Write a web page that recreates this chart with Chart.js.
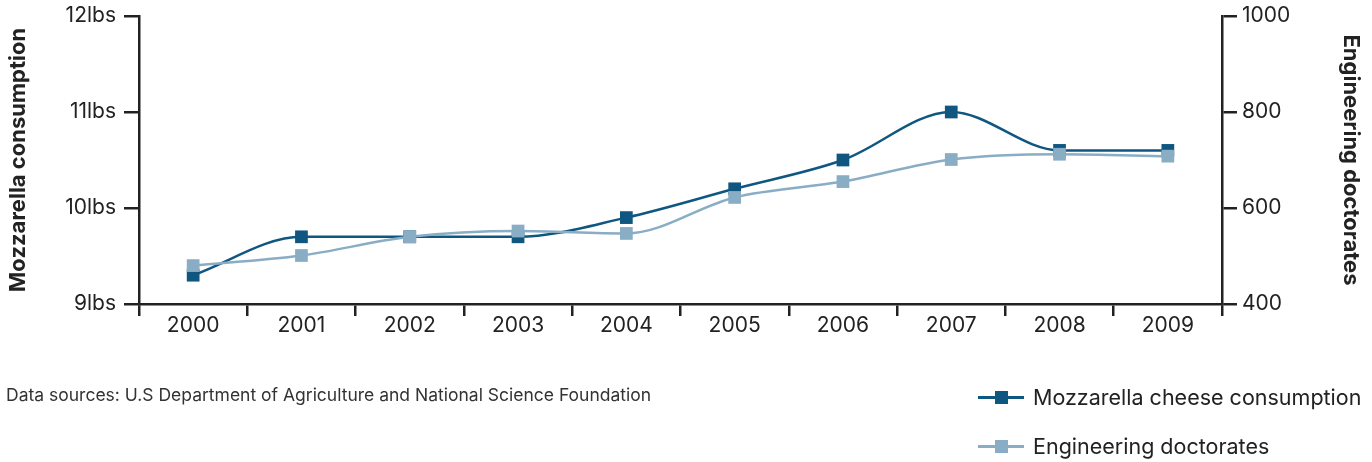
<!DOCTYPE html>
<html>
<head>
<meta charset="utf-8">
<script src="https://cdn.jsdelivr.net/npm/chart.js@4"></script>
<style>
  body { margin: 0; background: #fff; font-family: Inter, sans-serif; color: #222; }
  #wrap { position: relative; width: 1372px; height: 462px; }
  #source { position: absolute; left: 6px; top: 384px; font-size: 17.5px; color: #333; }
  .leg { position: absolute; left: 978px; font-size: 21.5px; color: #222; display: flex; align-items: center; }
  .leg .line { width: 46px; height: 3px; position: relative; margin-right: 9px; }
  .leg .sq { position: absolute; left: 17px; top: -5px; width: 13px; height: 13px; }
</style>
</head>
<body>
<div id="wrap">
  <canvas id="myChart" width="1372" height="462"></canvas>
  <div id="source">Data sources: U.S Department of Agriculture and National Science Foundation</div>
  <div class="leg" style="top:384px"><div class="line" style="background:#0f5780"><div class="sq" style="background:#0f5780"></div></div>Mozzarella cheese consumption</div>
  <div class="leg" style="top:433px"><div class="line" style="background:#89adc5"><div class="sq" style="background:#89adc5"></div></div>Engineering doctorates</div>
</div>
<script>
const years = ['2000', '2001', '2002', '2003', '2004', '2005', '2006', '2007', '2008', '2009'];
const mozzarella = [9.3, 9.7, 9.7, 9.7, 9.9, 10.2, 10.5, 11, 10.6, 10.6];
const doctorates = [480, 501, 540, 552, 547, 622, 655, 701, 712, 708];

const dark = '#0f5780';
const light = '#89adc5';
const axisColor = '#222';
const tickFont = { family: 'Inter', size: 21 };
const titleFont = { family: 'Inter', size: 22, weight: 'bold' };

const ctx = document.getElementById('myChart');

new Chart(ctx, {
    type: 'line',
    data: {
        labels: years,
        datasets: [{
            label: 'Engineering doctorates',
            data: doctorates,
            yAxisID: 'y2',
            borderColor: light,
            backgroundColor: light,
            borderWidth: 2.5,
            pointStyle: 'rect',
            pointRadius: 9,
            pointBorderWidth: 0,
            cubicInterpolationMode: 'monotone'
        }, {
            label: 'Mozzarella cheese consumption',
            data: mozzarella,
            yAxisID: 'y',
            borderColor: dark,
            backgroundColor: dark,
            borderWidth: 2.5,
            pointStyle: 'rect',
            pointRadius: 9,
            pointBorderWidth: 0,
            cubicInterpolationMode: 'monotone'
        }]
    },
    options: {
        responsive: false,
        animation: false,
        layout: { padding: { top: 16, bottom: 0, left: 0, right: 0 } },
        plugins: {
            legend: { display: false },
            tooltip: { enabled: false }
        },
        scales: {
            x: {
                offset: true,
                afterFit: s => { s.height = 158; },
                grid: { offset: true, drawOnChartArea: false, drawTicks: true, tickLength: 12, tickColor: axisColor, lineWidth: 2.5 },
                border: { color: axisColor, width: 2.5 },
                ticks: { color: '#222', font: tickFont, padding: -3, maxRotation: 0 }
            },
            y: {
                position: 'left',
                min: 9,
                max: 12,
                afterFit: s => { s.width = 139; s.paddingTop = 0; s.paddingBottom = 0; },
                ticks: { stepSize: 1, color: '#222', font: tickFont, padding: 8, callback: v => v + 'lbs' },
                grid: { drawOnChartArea: false, tickLength: 15, tickColor: axisColor, lineWidth: 2.5 },
                border: { color: axisColor, width: 2.5 },
                title: { display: true, text: 'Mozzarella consumption', color: '#222', font: titleFont, padding: { top: 5, bottom: 0 } }
            },
            y2: {
                position: 'right',
                min: 400,
                max: 1000,
                afterFit: s => { s.width = 150; s.paddingTop = 0; s.paddingBottom = 0; },
                ticks: { stepSize: 200, color: '#222', font: tickFont, padding: 5, callback: v => String(v) },
                grid: { drawOnChartArea: false, tickLength: 15, tickColor: axisColor, lineWidth: 2.5 },
                border: { color: axisColor, width: 2.5 },
                title: { display: true, text: 'Engineering doctorates', color: '#222', font: titleFont, padding: { top: 8, bottom: 0 } }
            }
        }
    }
});
</script>
</body>
</html>
